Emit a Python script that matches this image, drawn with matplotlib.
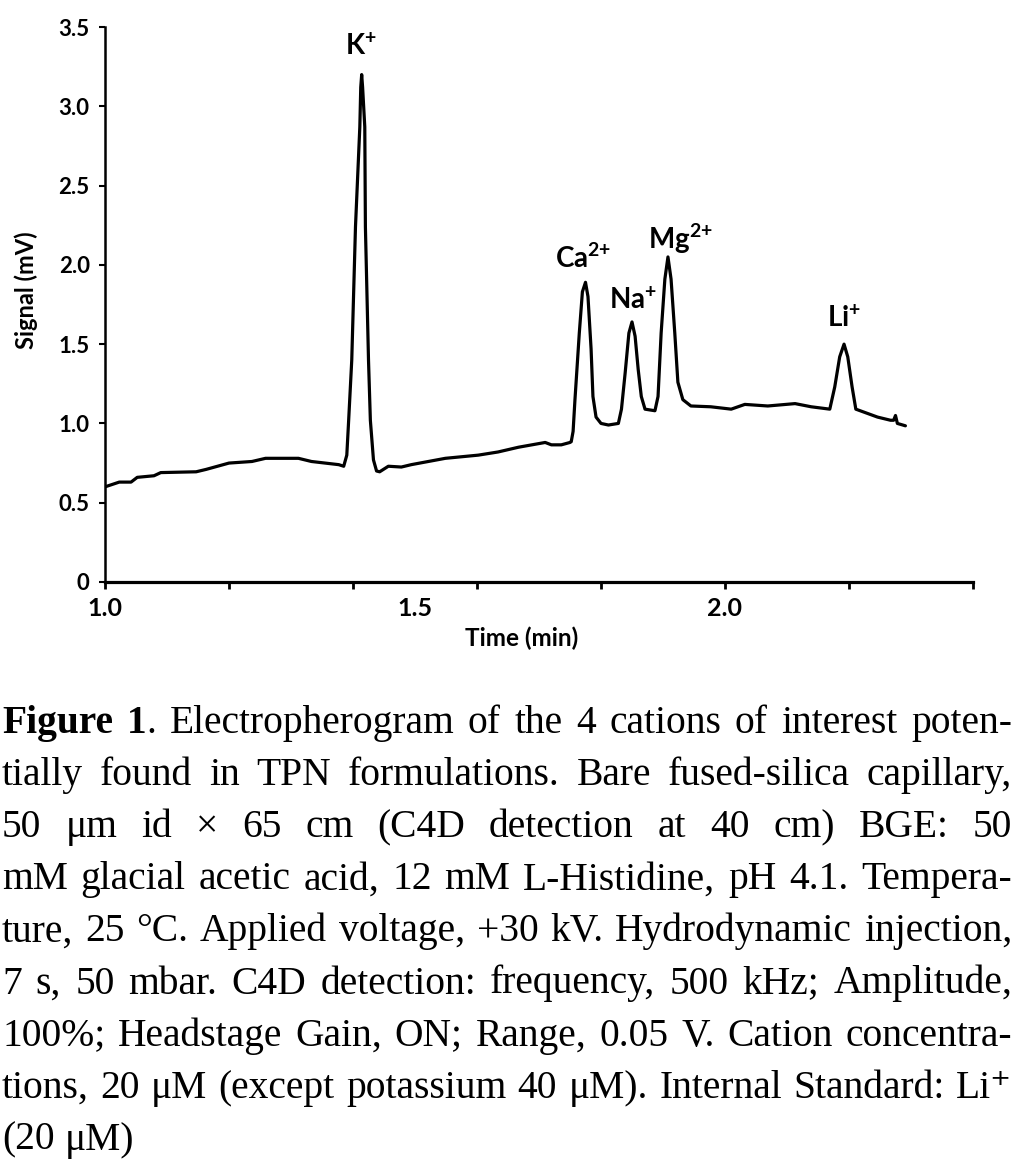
"""Electropherogram of the TPN cations (K+, Ca2+, Na+, Mg2+, Li+ IS) with caption."""

import matplotlib

matplotlib.use("Agg")
import matplotlib.pyplot as plt
from matplotlib.transforms import IdentityTransform

# Trace: time (min) vs C4D signal (mV), segment by segment.
time_min = [
    # baseline before K+
    1.000, 1.023, 1.042, 1.052, 1.079, 1.090, 1.147, 1.163, 1.200, 1.237, 1.259, 1.312, 1.333, 1.377, 1.385,
    # K+
    1.390, 1.393, 1.398, 1.404, 1.411, 1.4125, 1.414, 1.4155, 1.419, 1.420, 1.425, 1.428, 1.433, 1.438, 1.443,
    # baseline K+ -> Ca2+
    1.457, 1.478, 1.494, 1.549, 1.602, 1.634, 1.667, 1.710, 1.720, 1.736, 1.750,
    # Ca2+
    1.752, 1.755, 1.758, 1.765, 1.770, 1.775, 1.779, 1.784, 1.787, 1.792, 1.800, 1.812, 1.828, 1.833,
    # Na+
    1.839, 1.845, 1.850, 1.855, 1.860, 1.865, 1.871, 1.887,
    # Mg2+
    1.892, 1.897, 1.903, 1.908, 1.913, 1.919, 1.924, 1.932,
    # plateau
    1.945, 1.977, 2.010, 2.032, 2.069, 2.113, 2.139, 2.169,
    # Li+ and tail
    2.177, 2.185, 2.192, 2.198, 2.205, 2.211, 2.225, 2.246, 2.267, 2.272, 2.275, 2.278, 2.291,
]
signal_mv = [
    0.60, 0.63, 0.63, 0.66, 0.67, 0.69, 0.695, 0.71, 0.75, 0.76, 0.78, 0.78, 0.76, 0.74, 0.73,
    0.80, 1.02, 1.40, 2.24, 2.87, 3.12, 3.20, 3.12, 2.87, 2.24, 1.40, 1.02, 0.77, 0.70, 0.695,
    0.73, 0.725, 0.74, 0.78, 0.80, 0.82, 0.85, 0.88, 0.865, 0.865, 0.88,
    0.885, 0.95, 1.15, 1.57, 1.83, 1.89, 1.80, 1.47, 1.17, 1.04, 1.00, 0.99, 1.00, 1.09,
    1.32, 1.57, 1.64, 1.55, 1.34, 1.17, 1.09, 1.08,
    1.17, 1.57, 1.91, 2.05, 1.91, 1.57, 1.26, 1.15,
    1.11, 1.105, 1.09, 1.12, 1.11, 1.125, 1.105, 1.09,
    1.23, 1.42, 1.50, 1.42, 1.23, 1.09, 1.07, 1.04, 1.02, 1.02, 1.05, 1.00, 0.985,
]
assert len(time_min) == len(signal_mv)

peak_labels = [r"K$^{+}$", r"Ca$^{2{+}}$", r"Na$^{+}$", r"Mg$^{2{+}}$", r"Li$^{+}$"]
label_time = [1.413, 1.771, 1.852, 1.928, 2.192]
label_signal = [3.32, 1.98, 1.72, 2.10, 1.61]

y_ticks = [0, 0.5, 1.0, 1.5, 2.0, 2.5, 3.0, 3.5]
y_tick_labels = ["0", "0.5", "1.0", "1.5", "2.0", "2.5", "3.0", "3.5"]
x_ticks = [1.0, 1.5, 2.0]
x_tick_labels = ["1.0", "1.5", "2.0"]
x_tick_marks = [1.0, 1.2, 1.4, 1.6, 1.8, 2.0, 2.2, 2.4]

caption_lines = [
    "Figure 1. Electropherogram of the 4 cations of interest poten-",
    "tially found in TPN formulations. Bare fused-silica capillary,",
    "50 \u03bcm id \u00d7 65 cm (C4D detection at 40 cm) BGE: 50",
    "mM glacial acetic acid, 12 mM L-Histidine, pH 4.1. Tempera-",
    "ture, 25 \u00b0C. Applied voltage, +30 kV. Hydrodynamic injection,",
    "7 s, 50 mbar. C4D detection: frequency, 500 kHz; Amplitude,",
    "100%; Headstage Gain, ON; Range, 0.05 V. Cation concentra-",
    "tions, 20 \u03bcM (except potassium 40 \u03bcM). Internal Standard: Li\u207a",
    "(20 \u03bcM)",
]
caption_bold = "Figure 1"

W, H = 1015, 1164
SANS = ["Lato", "DejaVu Sans"]
SERIF = ["Liberation Serif", "DejaVu Serif"]


def _segments(line_no, word, offset):
    """Split a caption word into (text, bold) runs using the bold lead-in."""
    if line_no != 0:
        return [(word, False)]
    runs = []
    for i, ch in enumerate(word):
        bold = offset + i < len(caption_bold)
        if runs and runs[-1][1] == bold:
            runs[-1] = (runs[-1][0] + ch, bold)
        else:
            runs.append((ch, bold))
    return runs


def _width(fig, renderer, text, size, bold):
    t = fig.text(0, 0, text, fontsize=size, family=SERIF, weight="bold" if bold else "normal")
    w = t.get_window_extent(renderer).width
    t.remove()
    return w


def draw_caption(fig, x0, x1, base0, step, size):
    """Justified caption; the font is sized so the longest line just fills the width."""
    renderer = fig.canvas.get_renderer()

    def layout(sz):
        rows = []
        for n, line in enumerate(caption_lines):
            words, pos = [], 0
            for word in line.split(" "):
                runs = _segments(n, word, pos)
                widths = [_width(fig, renderer, s, sz, b) for s, b in runs]
                words.append((runs, widths))
                pos += len(word) + 1
            rows.append(words)
        return rows

    rows = layout(size)
    space = 0.25 * size * fig.dpi / 72
    natural = max(sum(sum(w) for _, w in r) + space * (len(r) - 1) for r in rows)
    size *= (x1 - x0) / natural * 0.99
    rows = layout(size)
    space = 0.25 * size * fig.dpi / 72

    for n, words in enumerate(rows):
        total = sum(sum(w) for _, w in words)
        last = n == len(rows) - 1
        gap = space if last or len(words) == 1 else (x1 - x0 - total) / (len(words) - 1)
        x = x0
        y = H - (base0 + n * step)
        for runs, widths in words:
            for (s, b), w in zip(runs, widths):
                fig.text(x, y, s, transform=IdentityTransform(), fontsize=size, family=SERIF,
                         weight="bold" if b else "normal", va="baseline", ha="left")
                x += w
            x += gap


def main():
    plt.rcParams["font.family"] = SANS
    plt.rcParams["mathtext.fontset"] = "custom"
    for key in ("rm", "it", "bf", "sf"):
        plt.rcParams[f"mathtext.{key}"] = "Lato:bold"
    plt.rcParams["mathtext.default"] = "rm"

    fig = plt.figure(figsize=(W / 100, H / 100), dpi=100)
    left, right, top, bottom = 105, 973, 27, 582
    ax = fig.add_axes([left / W, 1 - bottom / H, (right - left) / W, (bottom - top) / H])

    ax.plot(time_min, signal_mv, color="black", lw=2.3, solid_joinstyle="round", solid_capstyle="round")
    for lab, t, s in zip(peak_labels, label_time, label_signal):
        ax.text(t, s, lab, ha="center", va="baseline", fontsize=20, fontweight="bold")

    ax.set_xlim(1.0, 2.4)
    ax.set_ylim(0, 3.5)
    ax.spines[["top", "right"]].set_visible(False)
    ax.spines["left"].set_linewidth(1.8)
    ax.spines["bottom"].set_linewidth(2.3)

    ax.set_yticks(y_ticks)
    ax.set_yticklabels(y_tick_labels, fontweight="bold", fontsize=16)
    ax.tick_params(axis="y", direction="out", length=4, width=1.5, pad=7)

    ax.set_xticks(x_ticks)
    ax.set_xticklabels(x_tick_labels, fontweight="bold", fontsize=18)
    ax.set_xticks(x_tick_marks, minor=True)
    ax.xaxis.remove_overlapping_locs = False
    ax.tick_params(axis="x", which="major", length=0, pad=11)
    ax.tick_params(axis="x", which="minor", direction="out", length=5, width=2)

    fig.text(26 / W, 1 - 290 / H, "Signal (mV)", rotation=90, ha="center", va="center",
             fontsize=17, fontweight="bold")
    fig.text(522 / W, 1 - 638 / H, "Time (min)", ha="center", va="center",
             fontsize=17.5, fontweight="bold")

    draw_caption(fig, 2, 1012, 733, 52.1, 25)
    fig.savefig("out.png", dpi=100)


if __name__ == "__main__":
    main()
